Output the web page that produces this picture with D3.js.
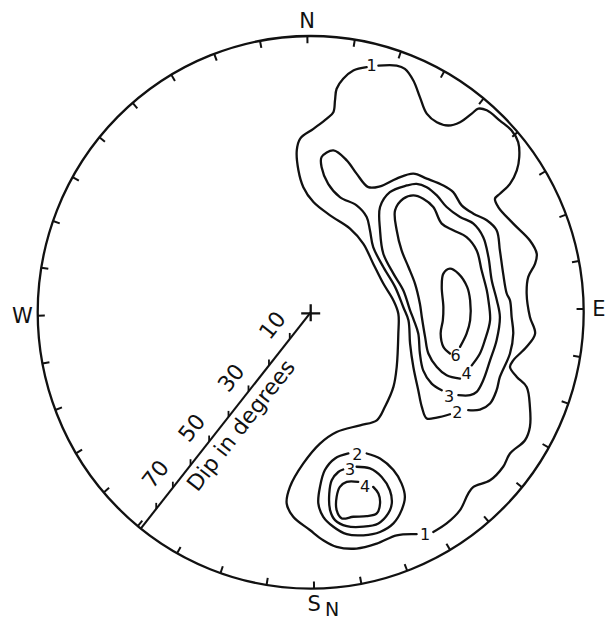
<!DOCTYPE html>
<html><head><meta charset="utf-8">
<script src="https://cdn.jsdelivr.net/npm/d3@7"></script>
<style>body{margin:0;background:#fff}svg{display:block}</style>
</head><body><svg id="c" width="606" height="620"></svg>
<script>
// ---- data (positions in % of net radius: x east, y north) ----
const cardinalLabels = [{t:"N",az:0},{t:"E",az:90},{t:"S",az:180},{t:"W",az:270}];
const ringTicks = d3.range(0, 360, 10);
const dipAzimuth = 218.5;
const dipTicks = [10,20,30,40,50,60,70,80];
const dipTickLabels = [10,30,50,70];
const dipTitle = "Dip in degrees";

const contour1a = [[24.8,89.3],[31.5,89.3],[34.5,88.1],[37.6,83.9],[40.0,77.9],[42.5,71.9],[46.2,68.8],[50.4,67.6],[54.7,68.8],[59.0,71.9],[61.4,73.7],[64.5,73.1],[69.3,69.4],[73.6,65.8],[76.0,61.6],[76.4,56.2],[75.5,51.4],[73.0,46.5],[69.3,42.9],[67.5,41.1],[68.7,38.1],[74.2,32.1],[80.3,26.0],[82.8,21.2],[82.2,17.6],[79.7,12.8],[79.1,6.8],[80.3,-1.7],[82.2,-7.7],[79.1,-12.5],[74.2,-17.4],[73.0,-19.8],[75.5,-23.4],[79.1,-27.0],[80.3,-34.2],[80.3,-41.5],[78.5,-46.3],[73.0,-51.1],[70.5,-55.9],[65.7,-60.8],[59.6,-63.2],[57.7,-65.6],[54.7,-71.6],[49.8,-76.4],[44.9,-79.5]];
const contour1b = [[38.8,-80.3],[31.5,-80.7],[24.2,-83.7],[16.8,-85.5],[9.5,-84.9],[4.6,-82.5],[-0.3,-78.8],[-6.4,-74.0],[-8.8,-69.2],[-7.6,-63.2],[-2.7,-54.7],[3.4,-47.5],[9.5,-43.3],[18.1,-40.9],[24.2,-39.1],[27.2,-34.2],[30.3,-27.0],[31.5,-19.8],[32.1,-7.7],[32.1,-0.5],[30.3,4.3],[26.6,10.4],[22.9,17.6],[19.3,24.8],[14.4,30.3],[7.1,35.1],[1.0,39.9],[-2.7,45.3],[-4.5,51.4],[-5.1,58.6],[-3.9,62.8],[1.0,66.4],[5.9,70.1],[8.3,72.4],[8.9,76.7],[9.5,80.9],[11.9,84.5],[15.6,87.5],[20.5,88.7]];
const contour2 = [[57.7,-35.4],[62.0,-35.2],[65.7,-33.0],[68.1,-28.2],[69.3,-23.4],[73.0,-14.9],[74.2,-7.7],[73.6,-1.7],[73.0,4.3],[71.8,6.8],[70.5,14.0],[69.3,22.4],[68.1,29.7],[64.5,33.3],[59.6,35.7],[55.3,38.7],[52.2,43.5],[48.6,45.9],[42.5,48.4],[37.6,50.2],[31.5,48.4],[25.4,45.6],[21.1,45.3],[16.8,50.2],[13.2,55.0],[8.3,58.6],[4.0,56.2],[4.0,52.5],[6.4,46.5],[10.7,41.7],[16.8,38.7],[20.5,34.5],[21.7,29.7],[22.9,23.6],[26.6,16.4],[30.9,9.2],[33.9,1.9],[35.8,-2.9],[36.4,-11.3],[37.6,-19.8],[39.4,-28.2],[40.7,-34.2],[42.5,-38.4],[46.2,-38.1],[51.0,-36.9]];
const contour3 = [[54.1,-30.0],[58.4,-30.0],[60.8,-28.8],[63.2,-24.6],[65.7,-17.4],[68.1,-10.1],[69.3,-1.7],[68.2,4.3],[66.3,11.6],[65.1,20.0],[63.2,27.2],[59.6,32.1],[54.7,34.5],[49.8,38.1],[46.2,42.3],[42.5,45.3],[38.8,46.5],[35.2,45.9],[29.0,43.5],[25.4,38.1],[25.4,29.7],[26.6,21.2],[30.3,14.0],[33.9,8.0],[36.4,0.7],[37.8,-2.9],[39.4,-7.7],[40.0,-14.9],[41.2,-21.0],[44.3,-25.8],[48.0,-28.2]];
const contour4 = [[59.0,-19.2],[62.0,-14.9],[63.8,-10.1],[65.7,-2.9],[65.1,4.3],[64.5,8.0],[62.6,15.2],[60.8,22.4],[57.1,27.2],[52.2,29.7],[48.0,32.1],[44.9,38.1],[41.2,41.1],[37.6,42.3],[33.9,41.1],[30.9,36.9],[31.5,29.7],[33.3,22.4],[35.8,16.4],[38.2,10.4],[40.0,3.1],[40.7,-1.7],[41.9,-8.9],[43.1,-14.9],[46.2,-19.8],[49.8,-22.8],[54.7,-24.0]];
const contour6 = [[54.7,-12.5],[57.1,-7.7],[58.4,-2.9],[58.4,4.3],[57.3,9.2],[54.1,14.0],[51.0,15.8],[48.6,14.0],[48.0,9.2],[48.6,1.9],[48.4,-2.9],[47.6,-7.7],[48.6,-12.5],[51.0,-14.9]];
const contour2s = [[20.5,-51.1],[25.4,-52.9],[30.3,-57.1],[33.3,-62.0],[34.5,-66.8],[33.3,-71.6],[30.3,-76.4],[25.4,-79.5],[19.3,-80.7],[13.2,-80.3],[8.3,-77.6],[4.6,-74.0],[2.8,-69.2],[3.4,-63.2],[5.2,-57.1],[8.9,-52.9],[13.8,-51.1]];
const contour3s = [[16.8,-55.9],[21.7,-56.5],[26.0,-59.6],[29.0,-64.4],[29.7,-69.2],[28.4,-72.8],[24.8,-76.4],[19.3,-77.6],[13.2,-77.4],[8.9,-75.2],[7.1,-71.6],[6.8,-65.6],[7.7,-60.8],[10.1,-57.8],[11.9,-56.9]];
const contour4s = [[22.9,-63.2],[24.8,-65.6],[25.4,-69.2],[24.2,-72.8],[20.5,-73.8],[15.6,-74.0],[11.4,-74.6],[9.5,-71.6],[9.5,-66.8],[10.7,-63.2],[13.2,-61.4],[17.4,-61.4]];
const contourLabels = [
  {t:"1",p:[22.3,89.3]},{t:"1",p:[41.9,-80.3]},
  {t:"2",p:[53.7,-36.4]},{t:"3",p:[50.7,-30.6]},{t:"4",p:[57.1,-22.2]},{t:"6",p:[53.1,-15.6]},
  {t:"2",p:[17.1,-51.4]},{t:"3",p:[14.4,-56.9]},{t:"4",p:[19.9,-62.9]}
];

// ---- drawing ----
const svg = d3.select("#c");
svg.append("rect").attr("width",606).attr("height",620).attr("fill","#fff");
const cx = 310.7, cy = 312.3, rx = 273, ry = 276.3;
const x = d3.scaleLinear().domain([-100,100]).range([cx-rx, cx+rx]);
const y = d3.scaleLinear().domain([-100,100]).range([cy+ry, cy-ry]);
const rad = d => d*Math.PI/180;
const rot = -0.7; // slight rotation of the printed net
const pt = (az, r) => [x(r*Math.sin(rad(az))), y(r*Math.cos(rad(az)))];
const ink = "#111";
const font = "'DejaVu Sans', sans-serif";

svg.append("ellipse").attr("cx",x(0)).attr("cy",y(0))
  .attr("rx",x(100)-x(0)).attr("ry",y(0)-y(100))
  .attr("fill","none").attr("stroke",ink).attr("stroke-width",2.3);

svg.append("g").selectAll("line").data(ringTicks).join("line")
  .attr("x1",d=>pt(d+rot,100)[0]).attr("y1",d=>pt(d+rot,100)[1])
  .attr("x2",d=>pt(d+rot,97.4)[0]).attr("y2",d=>pt(d+rot,97.4)[1])
  .attr("stroke",ink).attr("stroke-width",2);

svg.append("g").selectAll("text").data(cardinalLabels).join("text")
  .attr("x",d=>pt(d.az+rot,105.6)[0]).attr("y",d=>pt(d.az+rot,105.6)[1])
  .attr("text-anchor","middle").attr("dominant-baseline","central")
  .attr("font-family",font).attr("font-size",21).attr("fill",ink).text(d=>d.t);
// next net's N just below
const sP = pt(180+rot,105.6);
svg.append("text").attr("x",sP[0]+18).attr("y",sP[1]+5).attr("text-anchor","middle")
  .attr("dominant-baseline","central").attr("font-family",font).attr("font-size",19).attr("fill",ink).text("N");

// center cross
const c0 = pt(0,0);
svg.append("path").attr("d",`M${c0[0]-9.5},${c0[1]+1}h19M${c0[0]},${c0[1]-8}v17`)
  .attr("stroke",ink).attr("stroke-width",2.3).attr("fill","none");

// dip scale (equal-area)
const rScale = d3.scaleLinear().domain([0,1]).range([0,100]);
const dipR = d => rScale(Math.SQRT2*Math.sin(rad(d)/2));
const end = pt(dipAzimuth,100);
svg.append("line").attr("x1",c0[0]).attr("y1",c0[1]).attr("x2",end[0]).attr("y2",end[1])
  .attr("stroke",ink).attr("stroke-width",2.1);
svg.append("g").selectAll("line").data(dipTicks).join("line")
  .attr("x1",d=>pt(dipAzimuth,dipR(d))[0]).attr("y1",d=>pt(dipAzimuth,dipR(d))[1])
  .attr("x2",d=>pt(dipAzimuth,dipR(d))[0]).attr("y2",d=>pt(dipAzimuth,dipR(d))[1]-6)
  .attr("stroke",ink).attr("stroke-width",1.8);
const ang = Math.atan2(c0[1]-end[1], c0[0]-end[0])*180/Math.PI;
svg.append("g").selectAll("text").data(dipTickLabels).join("text")
  .attr("transform",d=>{const p=pt(dipAzimuth,dipR(d));return `translate(${p[0]},${p[1]}) rotate(${ang})`;})
  .attr("y",-22).attr("text-anchor","middle").attr("dominant-baseline","central")
  .attr("font-family",font).attr("font-size",22).attr("fill",ink).text(d=>d);
const tP = pt(dipAzimuth,48);
svg.append("text").attr("transform",`translate(${tP[0]},${tP[1]}) rotate(${ang})`)
  .attr("y",15).attr("text-anchor","middle").attr("dominant-baseline","central")
  .attr("font-family",font).attr("font-size",22).attr("fill",ink).text(dipTitle);

// contours
const line = d3.line().x(d=>x(d[0])).y(d=>y(d[1])).curve(d3.curveCatmullRom.alpha(0.5));
svg.append("g").selectAll("path")
  .data([contour1a,contour1b,contour2,contour3,contour4,contour6,contour2s,contour3s,contour4s])
  .join("path").attr("d",line).attr("fill","none").attr("stroke",ink)
  .attr("stroke-width",2.3).attr("stroke-linejoin","round").attr("stroke-linecap","round");
svg.append("g").selectAll("text").data(contourLabels).join("text")
  .attr("x",d=>x(d.p[0])).attr("y",d=>y(d.p[1]))
  .attr("text-anchor","middle").attr("dominant-baseline","central")
  .attr("font-family",font).attr("font-size",16).attr("fill",ink).text(d=>d.t);
</script></body></html>
